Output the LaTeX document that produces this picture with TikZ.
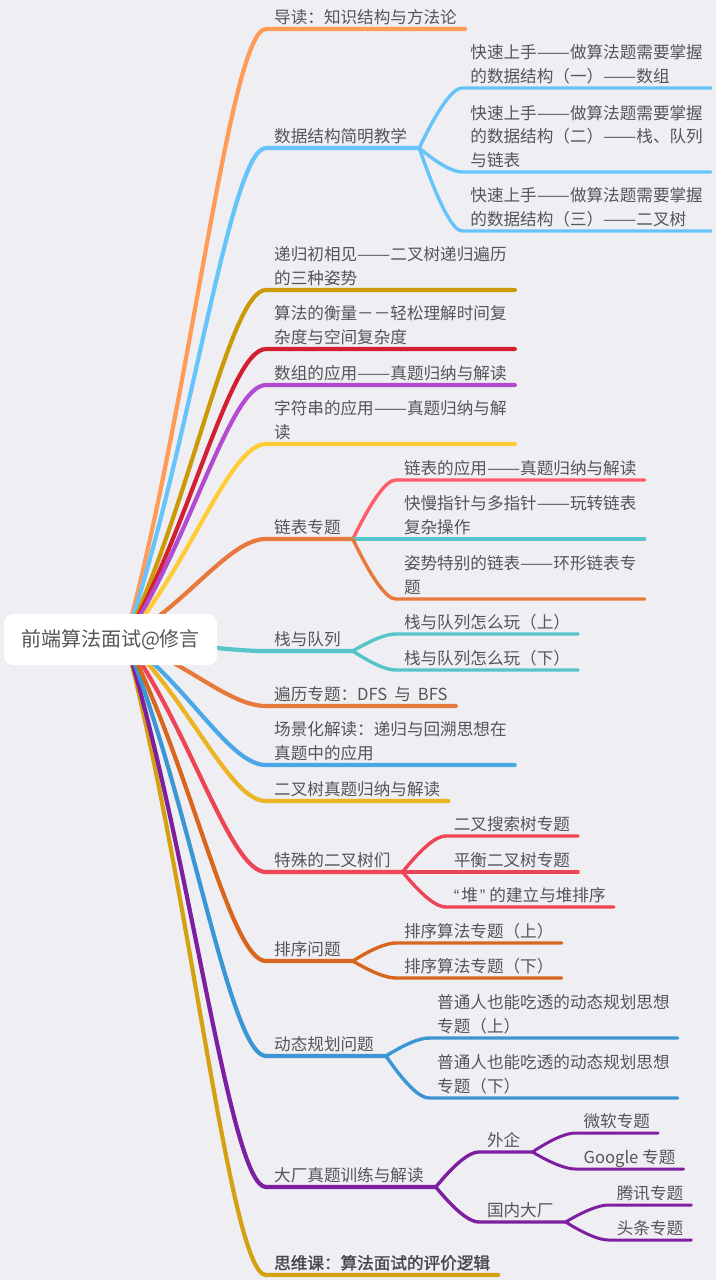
\documentclass[tikz,border=0pt]{standalone}
\usepackage{fontspec}
\usepackage{graphicx}
\setmainfont{Noto Sans CJK SC}
\newfontfamily\cjkbf[FakeBold=1.6]{Noto Sans CJK SC}
\newfontfamily\qfont{Liberation Sans}
\newcommand\dd{\resizebox{2em}{\height}{——}}
\usetikzlibrary{calc}
\pgfdeclarelayer{bg}
\pgfsetlayers{bg,main}
\definecolor{bgc}{HTML}{EFEFF3}
\definecolor{tc}{HTML}{555558}
\definecolor{cA}{HTML}{FF9A57}
\definecolor{cB}{HTML}{66C4FA}
\definecolor{cC}{HTML}{CC9A06}
\definecolor{cD}{HTML}{D41F32}
\definecolor{cE}{HTML}{B34BD1}
\definecolor{cF}{HTML}{FFCB36}
\definecolor{cG}{HTML}{E6793B}
\definecolor{cG1}{HTML}{FF5C6A}
\definecolor{cG2}{HTML}{56C7CA}
\definecolor{cH}{HTML}{55C5C9}
\definecolor{cJ}{HTML}{4AA8E6}
\definecolor{cK}{HTML}{EBB422}
\definecolor{cL}{HTML}{EE4556}
\definecolor{cM}{HTML}{D9661F}
\definecolor{cN}{HTML}{3B97D3}
\definecolor{cP}{HTML}{7E1FA0}
\definecolor{cQ}{HTML}{D5A112}
\tikzset{
  lbl/.style={anchor=south west, inner xsep=8pt, inner ysep=0pt, align=left, text=tc,
    font=\fontsize{16.6}{23.5}\selectfont, execute at end node={\rule[-5.7pt]{0pt}{1pt}}},
  lblbold/.style={lbl, font=\cjkbf\fontsize{16.6}{23.5}\selectfont, text=tc!85!black},
  e1/.style={to path={let \p1=(\tikztostart), \p2=(\tikztotarget) in
     .. controls ({\x1+65pt},{\y1+0.39*(\y2-\y1)}) and ({\x2-36pt},\y2) .. (\tikztotarget)}},
  e2/.style={to path={let \p1=(\tikztostart), \p2=(\tikztotarget) in
     .. controls ({\x1+0.447*(\x2-\x1)},{\y1+0.667*(\y2-\y1)}) and ({\x2-0.22*(\x2-\x1)},\y2) .. (\tikztotarget)}},
  wone/.style={line width=4.2pt, line cap=round, line join=round},
  wtwo/.style={line width=3.4pt, line cap=round, line join=round},
  wthree/.style={line width=3pt, line cap=round, line join=round},
}
\begin{document}
\begin{tikzpicture}[x=1pt,y=-1pt]
\useasboundingbox (0,0) rectangle (716,1280);
% root
\node[fill=white, rounded corners=9pt, minimum width=213pt, minimum height=51pt, inner sep=0pt,
  text=tc, font=\fontsize{20}{24}\selectfont] (root) at (110.5,639.5) {前端算法面试@修言};
\coordinate (src) at ([xshift=15pt]root.center);
% level 1
\node[lbl] (n1) at (266,29) {导读：知识结构与方法论};
\node[lbl] (n2) at (266,148) {数据结构简明教学};
\node[lbl] (n3) at (266,290) {递归初相见\dd 二叉树递归遍历\\的三种姿势};
\node[lbl] (n4) at (266,349) {算法的衡量－－轻松理解时间复\\杂度与空间复杂度};
\node[lbl] (n5) at (266,385) {数组的应用\dd 真题归纳与解读};
\node[lbl] (n6) at (266,444) {字符串的应用\dd 真题归纳与解\\读};
\node[lbl] (n7) at (266,539) {链表专题};
\node[lbl] (n8) at (266,651) {栈与队列};
\node[lbl] (n9) at (266,706) {遍历专题：DFS\hspace{7pt}与\hspace{7pt}BFS};
\node[lbl] (n10) at (266,765) {场景化解读：递归与回溯思想在\\真题中的应用};
\node[lbl] (n11) at (266,801) {二叉树真题归纳与解读};
\node[lbl] (n12) at (266,872) {特殊的二叉树们};
\node[lbl] (n13) at (266,961) {排序问题};
\node[lbl] (n14) at (266,1056) {动态规划问题};
\node[lbl] (n15) at (266,1187) {大厂真题训练与解读};
\node[lblbold] (n16) at (266,1275) {思维课：算法面试的评价逻辑};
% junctions
\coordinate (j2) at ([xshift=4pt]n2.south east);
\coordinate (j7) at ([xshift=4pt]n7.south east);
\coordinate (j8) at ([xshift=4pt]n8.south east);
\coordinate (j12) at ([xshift=4pt]n12.south east);
\coordinate (j13) at ([xshift=4pt]n13.south east);
\coordinate (j14) at ([xshift=4pt]n14.south east);
\coordinate (j15) at ([xshift=4pt]n15.south east);
% level 2
\node[lbl] (n21) at ($(j2)+(43,-60)$) {快速上手\dd 做算法题需要掌握\\的数据结构（一）\dd 数组};
\node[lbl] (n22) at ($(j2)+(43,24)$) {快速上手\dd 做算法题需要掌握\\的数据结构（二）\dd 栈、队列\\与链表};
\node[lbl] (n23) at ($(j2)+(43,83)$) {快速上手\dd 做算法题需要掌握\\的数据结构（三）\dd 二叉树};
\node[lbl] (n71) at ($(j7)+(43,-59)$) {链表的应用\dd 真题归纳与解读};
\node[lbl] (n72) at ($(j7)+(43,0)$) {快慢指针与多指针\dd 玩转链表\\复杂操作};
\node[lbl] (n73) at ($(j7)+(43,60)$) {姿势特别的链表\dd 环形链表专\\题};
\node[lbl] (n81) at ($(j8)+(43,-17)$) {栈与队列怎么玩（上）};
\node[lbl] (n82) at ($(j8)+(43,19)$) {栈与队列怎么玩（下）};
\node[lbl] (n121) at ($(j12)+(43,-36)$) {二叉搜索树专题};
\node[lbl] (n122) at ($(j12)+(43,0)$) {平衡二叉树专题};
\node[lbl] (n123) at ($(j12)+(43,35)$) {{\qfont“}\kern2pt堆\kern2pt{\qfont”}\kern4pt的建立与堆排序};
\node[lbl] (n131) at ($(j13)+(43,-18)$) {排序算法专题（上）};
\node[lbl] (n132) at ($(j13)+(43,17)$) {排序算法专题（下）};
\node[lbl] (n141) at ($(j14)+(43,-18)$) {普通人也能吃透的动态规划思想\\专题（上）};
\node[lbl] (n142) at ($(j14)+(43,42)$) {普通人也能吃透的动态规划思想\\专题（下）};
\node[lbl] (n151) at ($(j15)+(43,-35)$) {外企};
\node[lbl] (n152) at ($(j15)+(43,35)$) {国内大厂};
\coordinate (j151) at ([xshift=4pt]n151.south east);
\coordinate (j152) at ([xshift=4pt]n152.south east);
\node[lbl] (n1511) at ($(j151)+(43,-19)$) {微软专题};
\node[lbl] (n1512) at ($(j151)+(43,17)$) {Google 专题};
\node[lbl] (n1521) at ($(j152)+(43,-17)$) {腾讯专题};
\node[lbl] (n1522) at ($(j152)+(43,18)$) {头条专题};
% connectors
\begin{pgfonlayer}{bg}
\fill[bgc] (0,0) rectangle (716,1280);
\draw[wone,cA] (src) to[e1] (n1.south west) -- (n1.south east);
\draw[wone,cB] (src) to[e1] (n2.south west) -- (j2);
\draw[wone,cC] (src) to[e1] (n3.south west) -- (n3.south east);
\draw[wone,cD] (src) to[e1] (n4.south west) -- (n4.south east);
\draw[wone,cE] (src) to[e1] (n5.south west) -- (n5.south east);
\draw[wone,cF] (src) to[e1] (n6.south west) -- (n6.south east);
\draw[wone,cG] (src) to[e1] (n7.south west) -- (j7);
\draw[wone,cQ] (src) to[e1] (n16.south west) -- (n16.south east);
\draw[wone,cP] (src) to[e1] (n15.south west) -- (j15);
\draw[wone,cN] (src) to[e1] (n14.south west) -- (j14);
\draw[wone,cM] (src) to[e1] (n13.south west) -- (j13);
\draw[wone,cL] (src) to[e1] (n12.south west) -- (j12);
\draw[wone,cK] (src) to[e1] (n11.south west) -- (n11.south east);
\draw[wone,cJ] (src) to[e1] (n10.south west) -- (n10.south east);
\draw[wone,cG] (src) to[e1] (n9.south west) -- (n9.south east);
\draw[wone,cH] (src) to[e1] (n8.south west) -- (j8);
% level 2 connectors
\foreach \c in {n21,n22,n23}{\draw[wtwo,cB] (j2) to[e2] (\c.south west) -- (\c.south east);}
\draw[wtwo,cG1] (j7) to[e2] (n71.south west) -- (n71.south east);
\draw[wtwo,cG2] (j7) to[e2] (n72.south west) -- (n72.south east);
\draw[wtwo,cG] (j7) to[e2] (n73.south west) -- (n73.south east);
\foreach \c in {n81,n82}{\draw[wtwo,cH] (j8) to[e2] (\c.south west) -- (\c.south east);}
\foreach \c in {n121,n122,n123}{\draw[wtwo,cL] (j12) to[e2] (\c.south west) -- (\c.south east);}
\foreach \c in {n131,n132}{\draw[wtwo,cM] (j13) to[e2] (\c.south west) -- (\c.south east);}
\foreach \c in {n141,n142}{\draw[wtwo,cN] (j14) to[e2] (\c.south west) -- (\c.south east);}
\draw[wtwo,cP] (j15) to[e2] (n151.south west) -- (j151);
\draw[wtwo,cP] (j15) to[e2] (n152.south west) -- (j152);
\foreach \c in {n1511,n1512}{\draw[wthree,cP] (j151) to[e2] (\c.south west) -- (\c.south east);}
\foreach \c in {n1521,n1522}{\draw[wthree,cP] (j152) to[e2] (\c.south west) -- (\c.south east);}
\end{pgfonlayer}
\end{tikzpicture}
\end{document}
